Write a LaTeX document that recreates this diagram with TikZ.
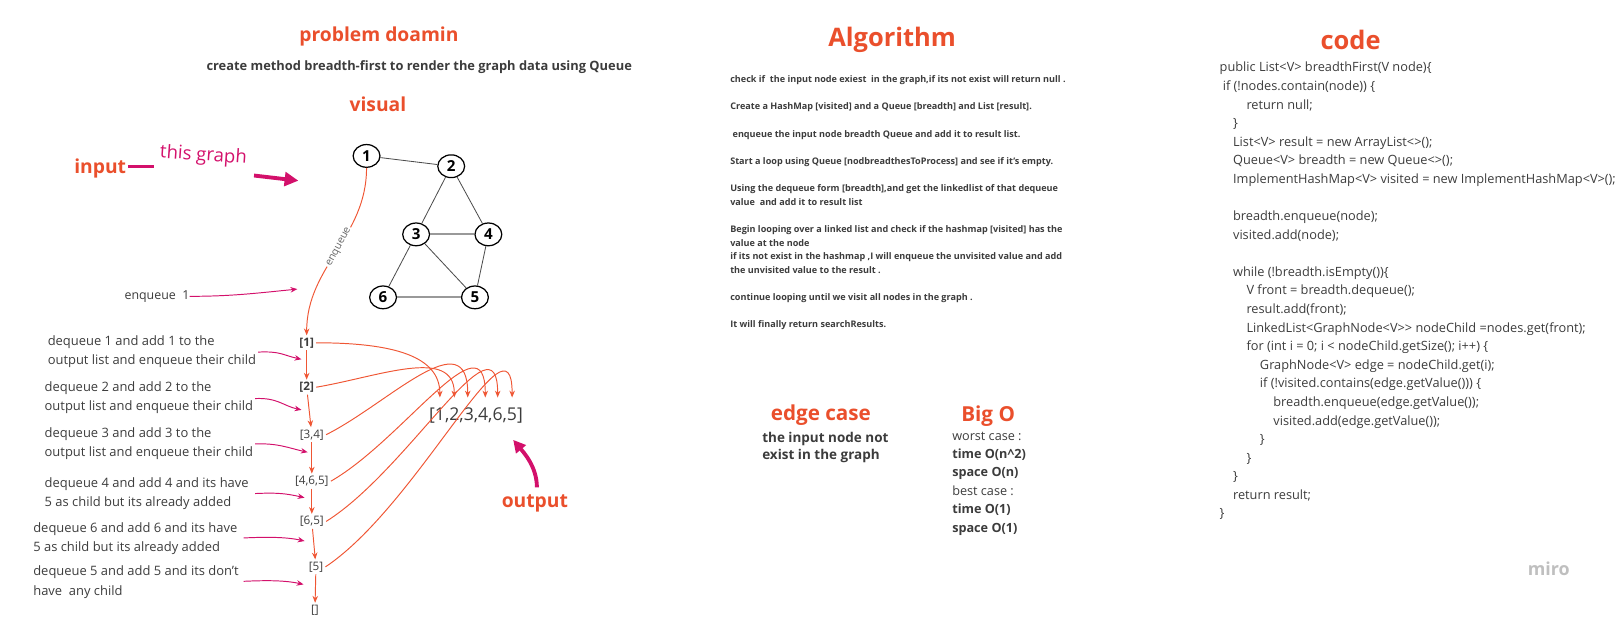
\documentclass[tikz,border=0pt]{standalone}
\usepackage{fontspec}
\setmainfont{Open Sans}
\usepackage{xcolor}
\definecolor{miroOrange}{HTML}{EA4F2C}
\definecolor{miroPink}{HTML}{D3106B}
\definecolor{flowRed}{HTML}{EF5634}
\definecolor{textGray}{HTML}{3C3C3C}
\usetikzlibrary{arrows.meta,shapes.geometric,calc}

\newcommand{\fsz}[2]{\fontsize{#1}{#2}\selectfont}

\begin{document}
\begin{tikzpicture}[x=0.75pt,y=-0.75pt,
  title/.style={font=\bfseries\fsz{14}{16}, text=miroOrange, inner sep=0pt},
  bigtitle/.style={font=\bfseries\fsz{18.5}{20}, text=miroOrange, inner sep=0pt},
  vnode/.style={ellipse, draw, line width=0.9pt, fill=white, minimum width=19.5pt,
    minimum height=16.5pt, inner sep=0pt, font=\bfseries\fsz{11}{12}},
  vedge/.style={draw=black!70, line width=0.6pt},
  vedgewide/.style={draw=black!40, line width=1.3pt},
  qstate/.style={font=\fsz{8.5}{10}, text=textGray, inner sep=1.5pt},
  note/.style={anchor=north west, align=left, font=\fsz{9.4}{13.9}, text=textGray, inner sep=0pt},
  flow/.style={-{Stealth[length=5pt,width=4pt]}, draw=flowRed, line width=0.7pt},
  pointer/.style={-{Stealth[length=5pt,width=4pt]}, draw=miroPink, line width=0.7pt}]
  \useasboundingbox (0,0) rectangle (1568,598);

  % problem domain
  \node[title] (domain) at (367,35) {problem doamin};
  \node[font=\bfseries\fsz{9.35}{11}, text=textGray, inner sep=0pt] (task) at (406,65)
    {create method breadth-first to render the graph data using Queue};
  \node[title] (visual) at (366,101) {visual};

  % input
  \node[title] (input) at (97,163) {input};
  \coordinate (dashL) at (124,161);
  \coordinate (dashR) at (149,161);
  \draw[miroPink, line width=2.4pt] (dashL) -- (dashR);
  \node[font=\fsz{13.5}{15}, text=miroPink, rotate=-4, inner sep=0pt] (thisgraph) at (197,151) {this graph};
  \coordinate (hintL) at (246,170);
  \coordinate (hintR) at (289,175);
  \draw[-{Triangle[length=10pt,width=10pt]}, miroPink, line width=2.8pt] (hintL) -- (hintR);

  % the graph
  \node[vnode] (n1) at (355,151) {1};
  \node[vnode] (n2) at (437,161) {2};
  \node[vnode] (n3) at (403,227) {3};
  \node[vnode] (n4) at (473,227) {4};
  \node[vnode] (n5) at (460,288) {5};
  \node[vnode] (n6) at (371,288) {6};
  \draw[vedge] (n1) -- (n2);
  \draw[vedge] (n2) -- (n3);
  \draw[vedge] (n2) -- (n4);
  \draw[vedge] (n3) -- (n6);
  \draw[vedge] (n3) -- (n5);
  \draw[vedge] (n4) -- (n5);
  \draw[vedgewide] (n3) -- (n4);
  \draw[vedgewide] (n6) -- (n5);

  % queue states
  \node[qstate, font=\bfseries\fsz{8.5}{10}] (q1) at (297,332) {[1]};
  \node[qstate, font=\bfseries\fsz{8.5}{10}] (q2) at (297,375) {[2]};
  \node[qstate] (q3) at (302,421) {[3,4]};
  \node[qstate] (q4) at (302,466) {[4,6,5]};
  \node[qstate] (q5) at (302,505) {[6,5]};
  \node[qstate] (q6) at (306,549) {[5]};
  \node[qstate] (q7) at (305,591) {[]};

  % enqueue the start node
  \draw[flow] (n1.south) .. controls +(0,67) and +(0,-67) .. (q1.north)
    node[pos=0.47, rotate=62, fill=white, inner sep=1pt, font=\fsz{7.5}{8}, text=black!60] {enqueue};
  \node[font=\fsz{9}{10}, text=textGray, inner sep=0pt] (enq1) at (152,287) {enqueue\ \ 1};
  \coordinate (enq1tip) at (288,280);
  \draw[pointer] (enq1.east) .. controls +(40,0) and +(-40,4) .. (enq1tip);

  \draw[flow] (q1) -- (q2);
  \draw[flow] (q2) -- (q3);
  \draw[flow] (q3) -- (q4);
  \draw[flow] (q4) -- (q5);
  \draw[flow] (q5) -- (q6);
  \draw[flow] (q6) -- (q7);

  % what each step does
  \node[note] (d1) at (46,325) {dequeue 1 and add 1 to the\\output list and enqueue their child};
  \node[note] (d2) at (43,369) {dequeue 2 and add 2 to the\\output list and enqueue their child};
  \node[note] (d3) at (43,414) {dequeue 3 and add 3 to the\\output list and enqueue their child};
  \node[note] (d4) at (43,462) {dequeue 4 and add 4 and its have\\5 as child but its already added};
  \node[note] (d5) at (32,506) {dequeue 6 and add 6 and its have\\5 as child but its already added};
  \node[note] (d6) at (32,548) {dequeue 5 and add 5 and its don't\\have\ \ any child};
  \coordinate (s1) at (250,341); \coordinate (t1) at (292,348);
  \coordinate (s2) at (247,386); \coordinate (t2) at (292,397);
  \coordinate (s3) at (247,430); \coordinate (t3) at (298,438);
  \coordinate (s4) at (247,478); \coordinate (t4) at (295,482);
  \coordinate (s5) at (236,521); \coordinate (t5) at (295,524);
  \coordinate (s6) at (236,563); \coordinate (t6) at (294,566);
  \foreach \i in {1,...,6}
    \draw[pointer] (s\i) .. controls +(22,-1) and +(-18,-4) .. (t\i);

  % result list
  \node[font=\fsz{12.8}{14}, text=textGray, inner sep=0pt] (res) at (461,402) {[1,2,3,4,6,5]};
  \coordinate (r1) at (426,385);
  \coordinate (r2) at (440,385);
  \coordinate (r3) at (453,385);
  \coordinate (r4) at (470,385);
  \coordinate (r5) at (482,385);
  \coordinate (r6) at (496,385);
  \draw[flow] (q1.east) .. controls +(75,0) and +(0,-40) .. (r1);
  \draw[flow] (q2.east) .. controls +(60,-10) and +(0,-50) .. (r2);
  \draw[flow] (q3.east) .. controls +(60,-30) and +(0,-75) .. (r3);
  \draw[flow] (q4.east) .. controls +(70,-40) and +(0,-80) .. (r4);
  \draw[flow] (q5.east) .. controls +(80,-50) and +(0,-85) .. (r5);
  \draw[flow] (q6.east) .. controls +(90,-60) and +(0,-90) .. (r6);

  % output
  \node[title] (output) at (518,488) {output};
  \coordinate (outL) at (520,472);
  \coordinate (outT) at (497,426);
  \draw[-{Triangle[length=9pt,width=9pt]}, miroPink, line width=2.8pt]
    (outL) .. controls +(0,-20) and +(10,12) .. (outT);

  % algorithm
  \node[bigtitle] (algo) at (864,39) {Algorithm};
  \node[anchor=north west, align=left, font=\bfseries\fsz{6.6}{9.9}, text=textGray, inner sep=0pt] (steps) at (707,73)
    {check if\ \ the input node exiest\ \ in the graph,if its not exist will return null .\\[9.9pt]
     Create a HashMap [visited] and a Queue [breadth] and List [result].\\[9.9pt]
     \ enqueue the input node breadth Queue and add it to result list.\\[9.9pt]
     Start a loop using Queue [nodbreadthesToProcess] and see if it's empty.\\[9.9pt]
     Using the dequeue form [breadth],and get the linkedlist of that dequeue\\
     value\ \ and add it to result list\\[9.9pt]
     Begin looping over a linked list and check if the hashmap [visited] has the\\
     value at the node\\
     if its not exist in the hashmap ,I will enqueue the unvisited value and add\\
     the unvisited value to the result .\\[9.9pt]
     continue looping until we visit all nodes in the graph .\\[9.9pt]
     It will finally return searchResults.};

  % edge case and big O
  \node[title, font=\bfseries\fsz{15}{16}] (edge) at (795,402) {edge case};
  \node[anchor=north west, align=left, font=\bfseries\fsz{9.8}{12.75}, text=textGray, inner sep=0pt] (edgetext) at (738,418)
    {the input node not\\exist in the graph};
  \node[title, font=\bfseries\fsz{15}{16}] (bigo) at (957,403) {Big O};
  \node[anchor=north west, align=left, font=\fsz{9.2}{13.35}, text=textGray, inner sep=0pt] (bigotext) at (922,418)
    {worst case :\\\textbf{time O(n\textasciicircum 2)}\\\textbf{space O(n)}\\
     best case :\\\textbf{time O(1)}\\\textbf{space O(1)}};

  % code
  \node[bigtitle] (code) at (1308,39) {code};
  \node[anchor=north west, align=left, font=\fsz{9.27}{13.5}, text=textGray, inner sep=0pt] (listing) at (1181,60)
    {public List<V> breadthFirst(V node)\{\\
     \hspace*{2.25pt}if (!nodes.contain(node)) \{\\
     \hspace*{19.5pt}return null;\\
     \hspace*{9.75pt}\}\\
     \hspace*{9.75pt}List<V> result = new ArrayList<>();\\
     \hspace*{9.75pt}Queue<V> breadth = new Queue<>();\\
     \hspace*{9.75pt}ImplementHashMap<V> visited = new ImplementHashMap<V>();\\[13.5pt]
     \hspace*{9.75pt}breadth.enqueue(node);\\
     \hspace*{9.75pt}visited.add(node);\\[13.5pt]
     \hspace*{9.75pt}while (!breadth.isEmpty())\{\\
     \hspace*{19.5pt}V front = breadth.dequeue();\\
     \hspace*{19.5pt}result.add(front);\\
     \hspace*{19.5pt}LinkedList<GraphNode<V>\kern0pt> nodeChild =nodes.get(front);\\
     \hspace*{19.5pt}for (int i = 0; i < nodeChild.getSize(); i++) \{\\
     \hspace*{29.25pt}GraphNode<V> edge = nodeChild.get(i);\\
     \hspace*{29.25pt}if (!visited.contains(edge.getValue())) \{\\
     \hspace*{39pt}breadth.enqueue(edge.getValue());\\
     \hspace*{39pt}visited.add(edge.getValue());\\
     \hspace*{29.25pt}\}\\
     \hspace*{19.5pt}\}\\
     \hspace*{9.75pt}\}\\
     \hspace*{9.75pt}return result;\\
     \}};

  \node[font=\bfseries\fsz{13}{14}, text=black!25, inner sep=0pt] (miro) at (1500,551) {miro};
\end{tikzpicture}
\end{document}
